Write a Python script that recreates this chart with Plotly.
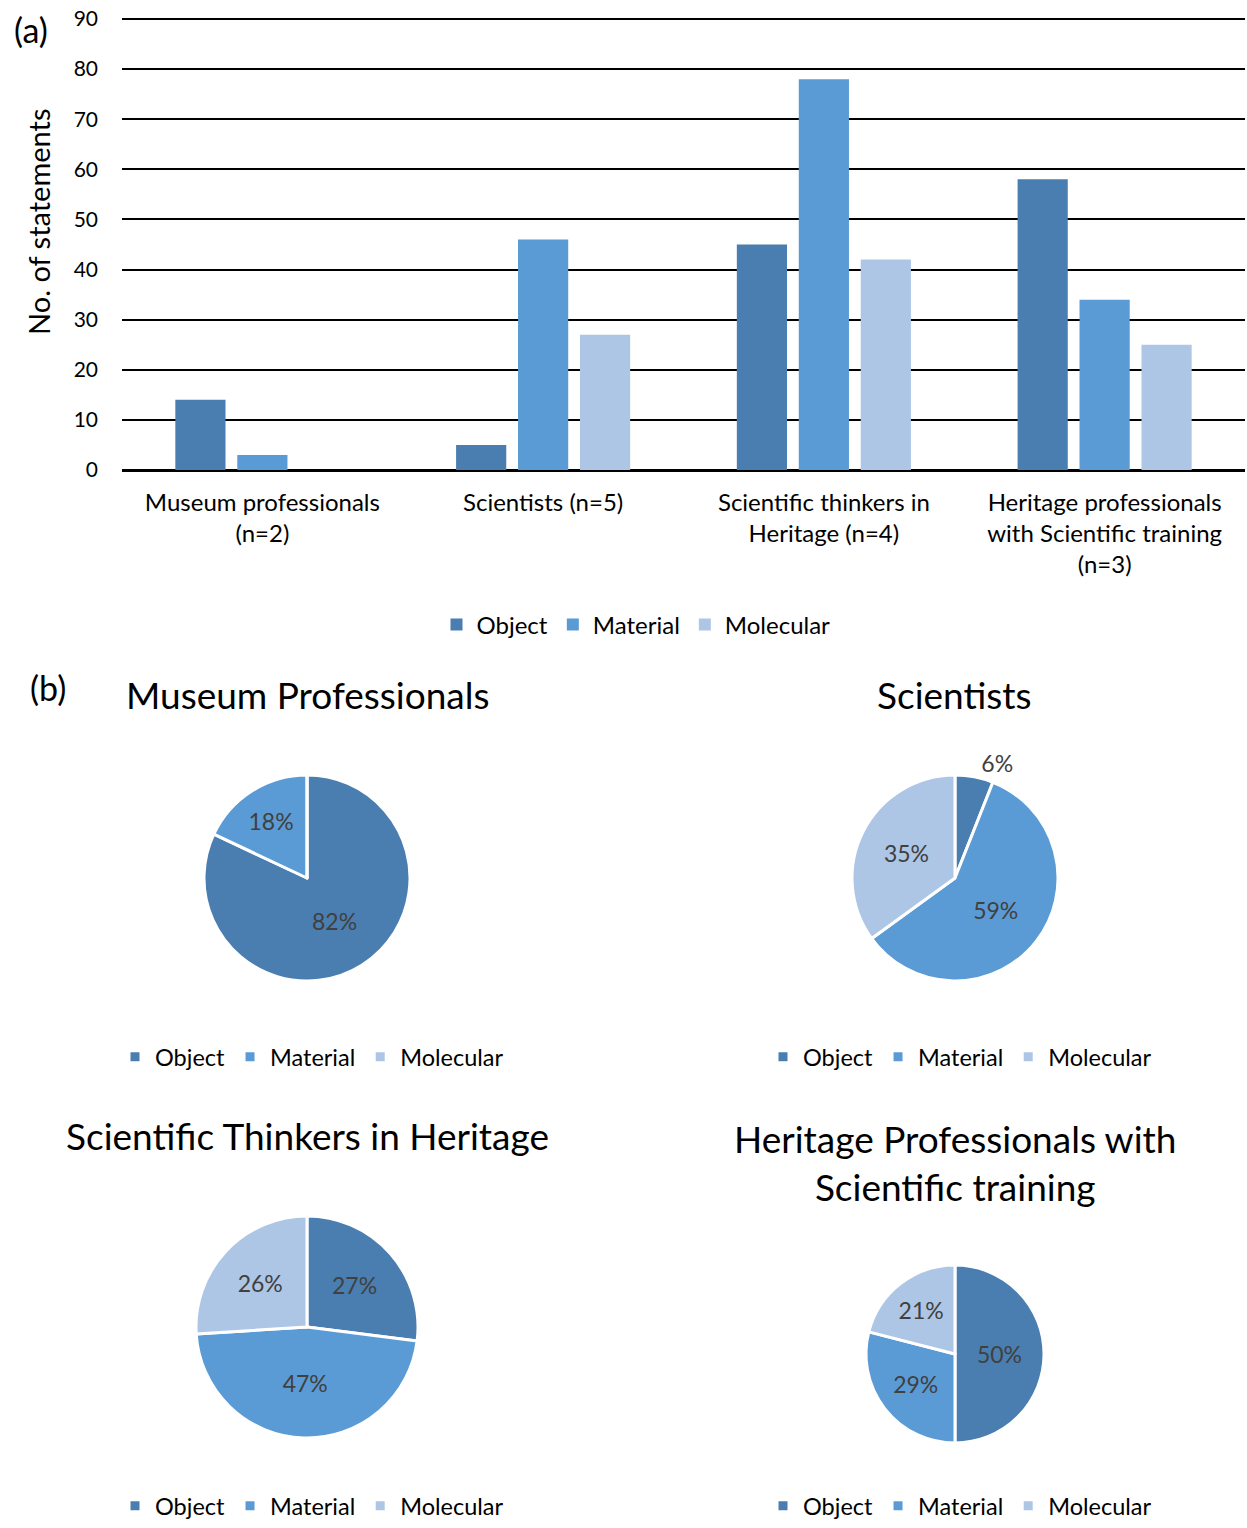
import plotly.graph_objects as go

W, H = 1247, 1528

levels = ["Object", "Material", "Molecular"]
colors = ["#4A7EB0", "#5B9BD5", "#AEC6E6"]

groups = ["Museum professionals<br>(n=2)", "Scientists (n=5)",
          "Scientific thinkers in<br>Heritage (n=4)",
          "Heritage professionals<br>with Scientific training<br>(n=3)"]
object_counts = [14, 5, 45, 58]
material_counts = [3, 46, 78, 34]
molecular_counts = [0, 27, 42, 25]

pie_titles = ["Museum Professionals", "Scientists",
              "Scientific Thinkers in Heritage",
              "Heritage Professionals with<br>Scientific training"]
pie_shares = [[82, 18, 0], [6, 59, 35], [27, 47, 26], [50, 29, 21]]

FONT = "Lato, Open Sans, sans-serif"


def px_x(x):
    return x / W


def px_y(y):
    return 1 - y / H


fig = go.Figure()

for name, vals, col in zip(levels, [object_counts, material_counts, molecular_counts], colors):
    fig.add_trace(go.Bar(x=groups, y=vals, name=name, marker_color=col,
                         marker_line_width=0, legend="legend"))

# pie layout: (center x, center y, radius) in pixels, legend center
pie_geo = [(307, 878, 103), (955, 878, 103), (307, 1327, 111), (955, 1354, 89)]
legend_pos = [(312, 1057), (960, 1057), (312, 1517), (960, 1517)]
title_pos = [(307, 695), (955, 695), (307, 1135), (955, 1162)]

for i, (shares, (cx, cy, r)) in enumerate(zip(pie_shares, pie_geo)):
    pos = ["outside" if s < 10 else "inside" for s in shares]
    # pie legend entries are merged by label, so make each pie's labels unique
    labels = [lv + "\u200b" * i for lv in levels]
    fig.add_trace(go.Pie(
        labels=labels, values=shares, sort=False, direction="clockwise", rotation=0,
        text=[f"{s}%" if s else "" for s in shares], textinfo="text",
        textposition=pos, insidetextorientation="horizontal",
        textfont=dict(size=23, color="#404040", family=FONT),
        marker=dict(colors=colors, line=dict(color="white", width=3)),
        domain=dict(x=[px_x(cx - r), px_x(cx + r)], y=[px_y(cy + r), px_y(cy - r)]),
        legend=f"legend{i + 2}", showlegend=True, hoverinfo="label+percent"))

annotations = [
    dict(text="(a)", x=px_x(31), y=px_y(30), showarrow=False, font=dict(size=34)),
    dict(text="(b)", x=px_x(48), y=px_y(688), showarrow=False, font=dict(size=34)),
    dict(text="No. of statements", x=px_x(38), y=px_y(222), textangle=-90,
         showarrow=False, font=dict(size=29)),
]
for t, (tx, ty) in zip(pie_titles, title_pos):
    annotations.append(dict(text=t, x=px_x(tx), y=px_y(ty), showarrow=False,
                            font=dict(size=37)))
for a in annotations:
    a.update(xref="paper", yref="paper", xanchor="center", yanchor="middle")

legends = dict(
    legend=dict(orientation="h", x=px_x(636), y=px_y(625), xanchor="center",
                yanchor="middle", font=dict(size=24)),
)
for i, (lx, ly) in enumerate(legend_pos):
    if ly > 1400:
        legends[f"legend{i + 2}"] = dict(orientation="h", x=px_x(lx), y=0,
                                         xanchor="center", yanchor="bottom",
                                         font=dict(size=23.5))
    else:
        legends[f"legend{i + 2}"] = dict(orientation="h", x=px_x(lx), y=px_y(ly),
                                         xanchor="center", yanchor="middle",
                                         font=dict(size=23.5))

fig.update_layout(
    width=W, height=H, margin=dict(l=0, r=0, t=0, b=0, autoexpand=False),
    paper_bgcolor="white", plot_bgcolor="white",
    font=dict(family=FONT, color="black"),
    barmode="group", bargap=0.338, bargroupgap=0.19,
    annotations=annotations,
    xaxis=dict(domain=[px_x(122), px_x(1245)], tickfont=dict(size=24),
               showgrid=False, showline=False, ticks="", ticklabelstandoff=16),
    yaxis=dict(domain=[px_y(470), px_y(14)], range=[0, 91], tickvals=list(range(0, 100, 10)),
               showgrid=True, gridcolor="black", gridwidth=2,
               zeroline=True, zerolinecolor="black", zerolinewidth=3,
               tickfont=dict(size=21), ticklabelstandoff=23, showline=False),
    **legends,
)

fig.write_html("out.html", config={"displayModeBar": False},
               post_script="document.body.style.margin='0';")
